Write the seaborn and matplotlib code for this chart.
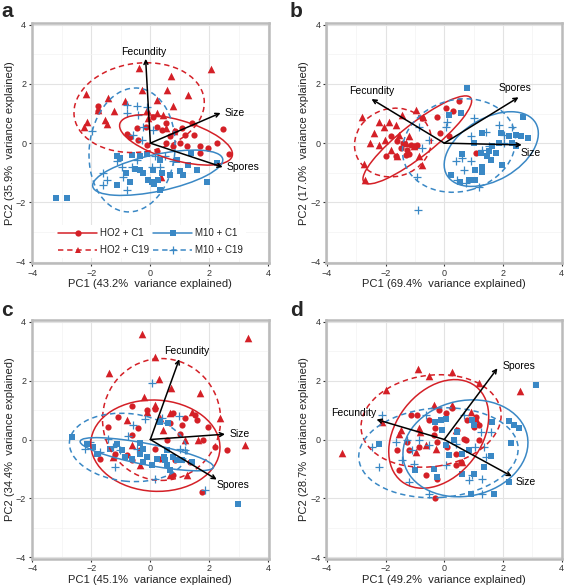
import numpy as np
import pandas as pd
import seaborn as sns
import matplotlib
matplotlib.use("Agg")
import matplotlib.pyplot as plt
from matplotlib.patches import Ellipse
from matplotlib.lines import Line2D

sns.set_theme(style="white")
plt.rcParams['font.family'] = ['Liberation Sans', 'DejaVu Sans']

RED = "#D42027"
BLUE = "#3A88C5"

GROUPS = ["HO2 + C1", "HO2 + C19", "M10 + C1", "M10 + C19"]
PANEL_LETTERS = ["a", "b", "c", "d"]
PC1_VAR = ["43.2", "69.4", "45.1", "49.2"]
PC2_VAR = ["35.9", "17.0", "34.4", "28.7"]
TICKS = [-4, -2, 0, 2, 4]

# ---------------- panel a ----------------
A_HO2_C1 = [(-0.15, 0.56), (-0.79, 0.32), (-0.41, 0.11), (-0.12, -0.06), (0.21, 0.56), (0.52, 0.68),
            (0.67, 0.23), (0.84, 0.40), (1.06, 0.51), (1.18, 0.28), (1.40, 0.68), (1.49, 0.28),
            (1.68, -0.11), (1.97, -0.17), (2.25, 0.0), (2.45, 0.47), (2.68, -0.36), (0.53, 0.0),
            (0.78, -0.11), (1.0, 0.0), (0.21, -0.28), (1.23, -0.11), (0.10, 0.90), (-1.76, 1.24),
            (-1.76, 1.10), (1.68, -0.34), (-0.46, 0.51), (0.40, 0.45), (-0.70, 0.20)]
A_HO2_C19 = [(-0.37, 2.54), (2.05, 2.49), (0.70, 2.26), (-2.18, 1.66), (-0.29, 1.81), (0.55, 1.81),
             (1.27, 1.64), (-1.42, 1.51), (-0.86, 1.41), (0.21, 1.47), (-1.23, 1.07), (-1.76, 1.13),
             (0.78, 1.27), (0.42, 0.96), (-0.12, 1.13), (-1.54, 0.79), (-1.48, 0.66), (-2.14, 0.73),
             (-2.25, 0.56), (0.21, 1.02), (0.52, 0.51), (-0.07, 0.85), (0.80, 0.40), (0.35, -1.15)]
A_M10_C1 = [(-3.18, -1.86), (-2.84, -1.84), (-1.14, -0.45), (-1.02, -0.50), (-0.63, -0.40), (-0.35, -0.45),
            (-0.12, -0.36), (-1.14, -1.41), (-0.82, -1.02), (-0.69, -1.30), (-0.35, -0.90), (-0.07, -1.24),
            (0.05, -1.30), (0.12, -1.38), (0.27, -1.24), (0.38, -1.02), (0.33, -1.58), (0.67, -1.07),
            (1.01, -0.93), (1.12, -1.07), (1.29, -0.73), (1.57, -0.90), (1.37, -0.34), (1.91, -1.30),
            (2.25, -0.68), (-0.24, -1.02), (0.10, -0.90), (0.33, -0.56), (-0.52, -0.87), (0.90, -0.56)]
A_M10_C19 = [(-1.99, 0.42), (-0.80, 1.30), (-0.46, 1.24), (-0.12, 1.22), (-0.80, 1.02), (-0.41, 0.96),
             (-0.58, 0.28), (-0.29, 0.11), (-1.59, -1.02), (-1.48, -1.24), (-1.59, -1.41), (-0.97, -0.79),
             (-0.92, -1.13), (-0.80, -1.58), (-0.63, -0.79), (-1.14, -0.62), (-0.46, -0.56), (0.16, -0.45),
             (0.50, -0.45), (0.05, -0.79), (0.78, -0.62), (0.10, 0.45), (-0.24, 0.56), (0.33, -0.79)]

# ---------------- panel b ----------------
B_HO2_C1 = [(0.50, 1.41), (0.31, 1.10), (0.05, 1.19), (-0.24, 0.90), (-0.75, 0.85), (-1.61, 0.06),
            (-1.49, -0.17), (-1.26, -0.23), (-1.21, -0.36), (-1.15, -0.06), (-0.98, -0.09), (-1.97, -0.43),
            (-1.66, -0.45), (-0.16, 0.34), (0.16, 0.23), (1.09, -0.32), (-1.40, 0.0), (-0.92, -0.06),
            (-1.83, 0.23), (-1.30, -0.40)]
B_HO2_C19 = [(-2.80, 0.90), (-2.23, 0.73), (-2.40, 0.34), (-2.74, -0.70), (-2.71, -1.24), (-1.87, 0.70),
             (-1.66, 0.62), (-2.01, 0.11), (-2.23, -0.06), (-1.55, 0.28), (-1.21, 0.23), (-0.98, 1.13),
             (-1.83, -0.23), (-1.61, -0.45), (-0.87, -0.45), (-0.75, -0.73), (-0.72, 0.88), (-1.04, -0.11),
             (-1.44, 0.96), (-2.52, 0.0), (-2.06, 0.56), (-1.32, 0.0)]
B_M10_C1 = [(0.79, 1.86), (0.16, 0.96), (0.56, 1.02), (2.67, 0.90), (1.30, 0.34), (1.93, 0.34),
            (2.21, 0.23), (2.44, 0.28), (2.61, 0.23), (2.84, 0.17), (2.32, 0.0), (1.87, 0.0),
            (1.64, -0.11), (1.24, -0.34), (1.47, -0.45), (1.58, -0.56), (0.62, -0.36), (1.98, -0.73),
            (1.30, -0.79), (1.05, -0.90), (1.30, -0.96), (0.84, -1.24), (0.22, -1.07), (0.52, -1.30),
            (1.05, -1.24), (1.75, -0.34), (2.44, -0.11), (1.53, -0.28), (1.01, 0.0)]
B_M10_C19 = [(-0.90, -2.26), (-0.92, -1.13), (-0.75, -0.17), (0.05, 0.56), (0.10, 0.73), (1.01, 0.85),
             (0.90, 0.23), (1.41, 0.36), (2.04, 0.28), (2.32, 0.56), (0.62, -0.51), (0.67, -0.90),
             (0.90, -0.62), (0.39, -0.62), (0.44, -1.24), (0.73, -1.36), (1.18, -1.47), (1.53, -0.11),
             (1.87, 0.62), (-0.52, 0.11), (-0.87, 0.56), (2.04, 0.0), (1.30, -0.23)]

# ---------------- panel c ----------------
C_HO2_C1 = [(-0.63, 1.14), (-0.12, 1.00), (0.16, 1.05), (0.78, 0.91), (1.51, 0.83), (1.57, 0.66),
            (1.06, 0.49), (1.18, 0.72), (0.67, 0.55), (-1.08, 0.77), (-1.42, 0.43), (-0.41, 0.38),
            (-0.63, 0.15), (1.00, 0.20), (1.97, 0.43), (2.19, -0.25), (2.59, -0.36), (1.80, -0.02),
            (0.55, -0.02), (0.16, -0.31), (-0.35, -0.36), (-0.80, -0.53), (-1.20, -0.48), (-0.63, -0.70),
            (0.33, -0.65), (0.84, -0.70), (1.34, -0.76), (1.74, -1.78), (0.78, -1.22), (-1.71, -0.65)]
C_HO2_C19 = [(-0.29, 3.59), (3.32, 3.44), (0.16, 2.82), (-1.39, 2.25), (0.29, 2.05), (0.69, 1.74),
             (1.68, 1.57), (-0.20, 1.45), (0.16, 1.17), (1.40, 0.94), (2.36, 0.72), (0.33, 0.72),
             (-0.80, 0.66), (-0.12, 0.94), (0.67, 0.89), (0.44, 0.32), (1.63, -0.02), (1.18, -0.02),
             (3.21, -0.19), (-0.63, -0.19), (-1.25, -0.59), (-0.35, -0.88), (1.23, -1.22), (0.67, -1.22)]
C_M10_C1 = [(-2.67, 0.09), (-2.16, -0.14), (-1.93, -0.25), (-1.82, -0.48), (-1.37, -0.31), (-0.97, -0.36),
            (-0.86, -0.59), (-0.63, -0.65), (-0.35, -0.11), (-0.24, -0.31), (-0.35, -0.48), (-0.12, -0.59),
            (-0.24, -0.76), (0.05, -0.88), (0.21, -0.65), (0.33, 0.60), (0.55, -0.36), (0.46, -0.59),
            (0.50, -0.70), (0.55, -0.88), (0.67, -1.05), (0.78, -0.59), (0.89, -0.70), (1.06, -0.70),
            (1.40, -0.76), (2.98, -2.19), (-1.14, -0.14), (0.61, 0.55)]
C_M10_C19 = [(0.05, 1.91), (-0.18, 0.68), (-0.58, 0.49), (-0.75, 0.11), (0.98, 0.80), (0.38, 0.72),
             (-1.42, 0.03), (-1.71, -0.42), (-2.22, -0.31), (-1.20, -0.93), (-1.03, -0.36), (0.16, -1.33),
             (1.85, -1.70), (-2.05, -0.08), (-1.25, -0.25), (1.00, -0.31), (1.18, -0.36), (-0.46, -0.31)]

# ---------------- panel d ----------------
D_HO2_C1 = [(-1.15, 0.83), (-0.92, 0.83), (-0.52, 0.66), (-0.18, 1.00), (0.05, 0.89), (0.27, 1.06),
            (0.79, 0.66), (1.07, 0.77), (1.19, 0.49), (1.01, 0.43), (0.67, 0.03), (0.73, -0.03),
            (-0.30, 0.38), (-0.35, 0.15), (-0.24, -0.08), (-1.61, -0.34), (-1.21, -0.36), (-0.87, -0.25),
            (-1.26, -0.08), (-1.55, -1.05), (-0.64, -1.22), (-0.24, -1.33), (-0.30, -1.98), (0.39, -0.48),
            (0.56, -0.76), (0.39, -0.88), (0.10, -0.25), (1.19, -0.02), (0.44, 0.32)]
D_HO2_C19 = [(-0.89, 2.39), (-0.52, 2.16), (0.25, 2.31), (-1.97, 1.68), (1.19, 1.91), (2.58, 1.65),
             (-0.35, 1.17), (0.25, 1.17), (0.90, 0.94), (-0.87, 0.38), (-1.49, 0.32), (-1.55, 0.20),
             (-0.84, 0.25), (-3.49, -0.45), (-0.98, -0.42), (-0.64, -0.19), (-0.27, -0.31), (0.62, -0.76),
             (-2.12, 0.60), (1.07, 0.68), (0.39, 0.32)]
D_M10_C1 = [(3.12, 1.85), (2.21, 0.63), (2.38, 0.49), (2.55, 0.38), (2.27, -0.11), (1.61, 0.60),
            (0.96, 0.66), (1.02, 0.49), (-0.30, 0.60), (-0.12, 0.66), (0.07, 0.68), (-0.07, 0.32),
            (0.33, -0.02), (0.05, -0.19), (0.44, 0.26), (0.16, -0.53), (0.62, -0.48), (0.84, -0.36),
            (1.58, -0.57), (1.36, -0.95), (1.01, -1.16), (0.62, -1.16), (-0.24, -1.27), (-1.00, -1.05),
            (-2.23, -0.16), (2.21, -1.44), (1.70, -1.84), (0.90, -1.84), (-0.35, -0.99)]
D_M10_C19 = [(-2.46, -0.27), (-2.23, -0.95), (-1.66, -0.08), (-1.26, -0.02), (-1.09, -0.36), (-0.87, -0.02),
             (-0.52, -0.19), (-1.44, -0.70), (-1.04, -0.82), (-1.21, -1.44), (-0.52, -1.84), (0.07, -0.88),
             (0.39, -0.14), (0.96, -1.22), (0.84, -1.39), (1.30, -1.33), (1.30, -1.84), (1.41, -0.59),
             (1.05, -0.25), (1.24, 0.26), (0.67, 0.83), (-0.64, 0.83), (-2.12, 0.83), (1.35, -0.25),
             (1.58, 0.26)]

# ellipses: (center x, center y, semi-major, semi-minor, angle deg)
ELL_A = [(0.87, 0.11, 1.98, 0.68, -16), (-0.38, 1.20, 2.22, 1.50, 8),
         (0.25, -1.00, 2.25, 0.62, 12), (-0.62, -0.23, 2.10, 1.45, 84)]
ELL_B = [(-0.92, 0.11, 2.31, 0.55, 38), (-1.75, 0.02, 1.32, 1.15, 15),
         (1.60, -0.20, 1.75, 1.05, 30), (0.50, -0.08, 1.95, 1.55, 15)]
ELL_C = [(0.17, -0.21, 2.19, 1.55, -3), (0.38, 0.68, 2.00, 2.07, 0),
         (-0.12, -0.50, 2.30, 0.36, -11), (-0.75, -0.27, 2.00, 1.15, -6)]
ELL_D = [(-0.19, 0.19, 2.05, 1.45, 52), (-0.45, 0.63, 2.40, 1.55, 8),
         (0.72, -0.30, 2.15, 1.62, 12), (-0.20, -0.45, 2.72, 1.52, 4)]

# loadings arrows and label positions
VARS = ["Fecundity", "Size", "Spores"]
ARR_A = [(-0.16, 2.85), (2.38, 1.02), (2.45, -0.81)]
LAB_A = [(-0.24, 3.08), (2.86, 1.02), (3.14, -0.81)]
ARR_B = [(-2.48, 1.49), (2.64, -0.06), (2.53, 1.55)]
LAB_B = [(-2.48, 1.77), (2.95, -0.34), (2.40, 1.86)]
ARR_C = [(0.98, 2.73), (2.53, 0.18), (2.25, -1.36)]
LAB_C = [(1.23, 2.99), (3.02, 0.18), (2.81, -1.53)]
ARR_D = [(-2.31, 0.68), (2.30, -1.25), (1.81, 2.42)]
LAB_D = [(-3.07, 0.89), (2.76, -1.44), (2.53, 2.50)]

STYLE = {
    "HO2 + C1": dict(color=RED, marker="o", s=20, ls="-"),
    "HO2 + C19": dict(color=RED, marker="^", s=30, ls="--"),
    "M10 + C1": dict(color=BLUE, marker="s", s=18, ls="-"),
    "M10 + C19": dict(color=BLUE, marker="+", s=40, ls="--"),
}

panels = [
    ([A_HO2_C1, A_HO2_C19, A_M10_C1, A_M10_C19], ELL_A, ARR_A, LAB_A),
    ([B_HO2_C1, B_HO2_C19, B_M10_C1, B_M10_C19], ELL_B, ARR_B, LAB_B),
    ([C_HO2_C1, C_HO2_C19, C_M10_C1, C_M10_C19], ELL_C, ARR_C, LAB_C),
    ([D_HO2_C1, D_HO2_C19, D_M10_C1, D_M10_C19], ELL_D, ARR_D, LAB_D),
]

W, H = 566, 587
fig = plt.figure(figsize=(W / 100, H / 100), dpi=100)
# axes boxes in pixels (left, top, right, bottom)
boxes = [(31.7, 23.3, 269.0, 263.0), (326.3, 23.3, 562.3, 263.0),
         (31.7, 320.3, 269.0, 558.7), (326.3, 320.3, 562.3, 558.7)]
letter_pos = [(1, 17), (290, 17), (1, 316), (290, 316)]

for i, (pts, ells, arrs, labs) in enumerate(panels):
    l, t, r, b = boxes[i]
    ax = fig.add_axes([l / W, 1 - b / H, (r - l) / W, (b - t) / H])
    ax.set_xlim(-4.02, 4.02)
    ax.set_ylim(-4.05, 4.05)
    ax.set_xticks(TICKS)
    ax.set_yticks(TICKS)
    ax.set_xticks([-3, -1, 1, 3], minor=True)
    ax.set_yticks([-3, -1, 1, 3], minor=True)
    ax.set_xticklabels(["\u22124", "\u22122", "0", "2", "4"])
    ax.set_yticklabels(["\u22124", "\u22122", "0", "2", "4"])
    ax.grid(True, which="major", color="#E3E3E3", lw=0.8)
    ax.grid(True, which="minor", color="#F3F3F3", lw=0.5)
    ax.set_axisbelow(True)
    for sp in ax.spines.values():
        sp.set_color("#BBBBBB")
        sp.set_linewidth(1.8)
    ax.tick_params(axis="both", which="major", direction="out", length=2.5, width=0.8,
                   color="#333333", labelsize=6.5, labelcolor="#333333", pad=1.5,
                   bottom=True, left=True)
    ax.tick_params(axis="both", which="minor", length=0)

    for g, gp in zip(GROUPS, pts):
        df = pd.DataFrame(gp, columns=["x", "y"])
        st = STYLE[g]
        if st["marker"] == "+":
            sns.scatterplot(data=df, x="x", y="y", color=st["color"], marker="+", s=st["s"],
                            linewidth=0.9, ax=ax, legend=False, zorder=2)
        else:
            sns.scatterplot(data=df, x="x", y="y", color=st["color"], marker=st["marker"], s=st["s"],
                            linewidth=0, ax=ax, legend=False, zorder=2)

    for g, (cx, cy, a, bb, ang) in zip(GROUPS, ells):
        st = STYLE[g]
        e = Ellipse((cx, cy), 2 * a, 2 * bb, angle=ang, fill=False, ec=st["color"], lw=1.1,
                    ls=st["ls"], zorder=3)
        if st["ls"] == "--":
            e.set_linestyle((0, (3.5, 2.5)))
        ax.add_patch(e)

    for v, (ax_, ay_), (lx, ly) in zip(VARS, arrs, labs):
        ax.annotate("", xy=(ax_, ay_), xytext=(0, 0),
                    arrowprops=dict(arrowstyle="->", lw=1.1, color="black",
                                    mutation_scale=7, shrinkA=0, shrinkB=0), zorder=4)
        ax.text(lx, ly, v, ha="center", va="center", fontsize=7.5, color="black", zorder=5)

    ax.set_xlabel(f"PC1 ({PC1_VAR[i]}%  variance explained)", fontsize=8, color="#222222", labelpad=1)
    ax.set_ylabel(f"PC2 ({PC2_VAR[i]}%  variance explained)", fontsize=8, color="#222222", labelpad=1)

    lx, ly = letter_pos[i]
    fig.text(lx / W, 1 - ly / H, PANEL_LETTERS[i], fontsize=15, fontweight="bold",
             ha="left", va="baseline")

    if i == 0:
        handles = []
        for g in GROUPS:
            st = STYLE[g]
            handles.append(Line2D([0], [0], color=st["color"], lw=1.1,
                                  ls="-" if st["ls"] == "-" else (0, (3.5, 2.5)),
                                  marker=st["marker"], markersize=4.5 if st["marker"] != "+" else 6,
                                  markeredgewidth=0.9 if st["marker"] == "+" else 0))
        leg = ax.legend(handles=handles, labels=GROUPS, ncol=2, loc="lower left",
                        bbox_to_anchor=(0.1, 0.02), fontsize=7, frameon=True,
                        facecolor="white", edgecolor="none", framealpha=1,
                        handlelength=4.0, handletextpad=0.3, columnspacing=0.4,
                        labelspacing=0.75, borderpad=0.3, borderaxespad=0)
        for txt in leg.get_texts():
            txt.set_color("#222222")

fig.savefig("out.png", dpi=100)
